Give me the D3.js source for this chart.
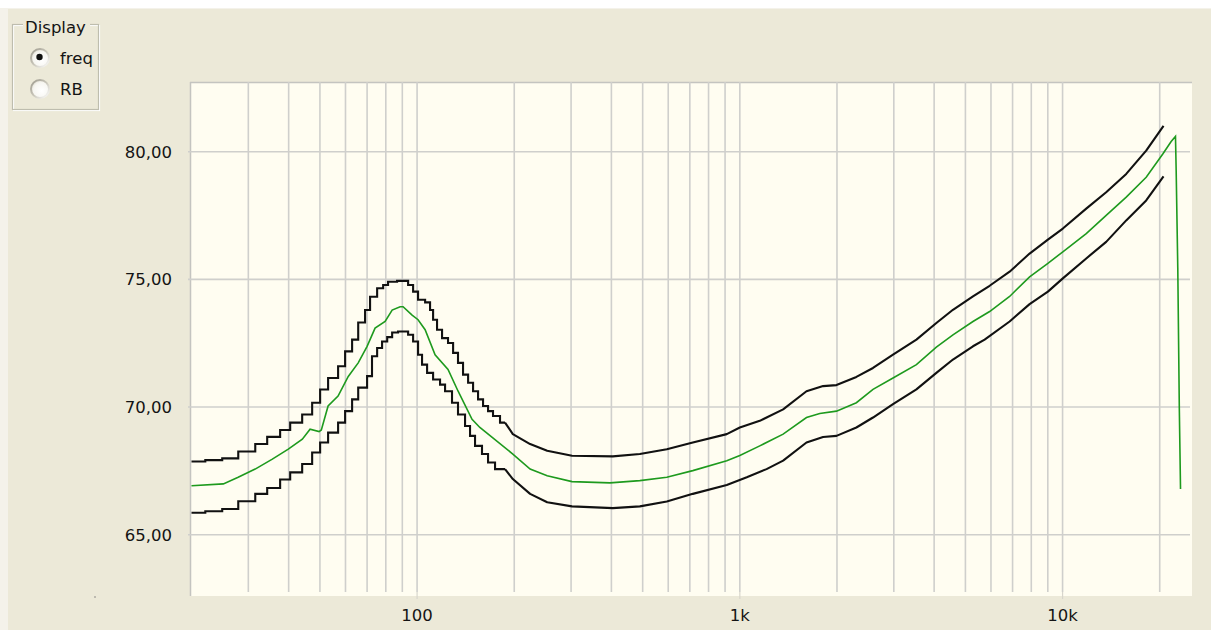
<!DOCTYPE html>
<html>
<head>
<meta charset="utf-8">
<script src="https://cdn.jsdelivr.net/npm/d3@7/dist/d3.min.js"></script>
<style>
html,body{margin:0;padding:0;background:#ECE9D8;}
svg{display:block;}
text{font-family:"DejaVu Sans",Verdana,sans-serif;}
</style>
</head>
<body>
<svg id="chart" width="1211" height="630"></svg>
<script>
// ---------------- data ----------------
// green (mean) response
const greenFreq = [20,25.1,27.9,31.5,35.6,39.9,44.1,46.6,49.7,50.5,53.0,56.9,61.2,65.7,70.0,74.1,79.6,83.7,88.6,90.5,96.5,100.7,105.9,113.7,124.7,134,148,156.5,198,224,253,302,396,490,594,715,911,1000,1153,1362,1609,1769,1993,2297,2586,2983,3525,4064,4575,5277,5943,6854,7904,9006,10020,11840,13650,15750,18160,20440,21700,22380,22490,22750,23000,23200];
const greenVal  = [66.92,66.99,67.25,67.57,67.96,68.35,68.74,69.13,69.04,69.10,70.04,70.43,71.20,71.73,72.38,73.09,73.35,73.80,73.93,73.93,73.60,73.42,73.03,72.05,71.47,70.62,69.52,69.20,68.16,67.57,67.31,67.08,67.03,67.12,67.25,67.51,67.90,68.10,68.48,68.94,69.59,69.75,69.84,70.17,70.69,71.14,71.66,72.35,72.83,73.35,73.74,74.33,75.10,75.63,76.08,76.79,77.51,78.22,79.00,79.91,80.40,80.60,79.26,75.45,69.95,66.79];

// upper black (max) curve
const upperFreq = [20,22.07,24.9,27.92,31.52,34.32,37.64,40.44,44.05,47.3,50.07,53.0,56.92,59.84,62.9,65.7,69.0,71.5,75.2,78.5,81.3,86.7,93.8,97.2,100.7,105.9,109.7,112.1,115.3,119.5,124.7,129.3,133.9,138.8,143.9,149.1,154.5,160.1,165.9,171.9,180.7,187.3,
  198,224,253,302,404,490,594,715,911,1000,1153,1362,1609,1811,1993,2297,2586,2983,3525,4064,4575,5277,5943,6854,7904,9006,10020,11840,13650,15750,18160,20550];
const upperVal  = [67.87,67.92,67.99,68.26,68.55,68.83,69.10,69.39,69.71,70.17,70.69,71.14,71.60,72.18,72.64,73.31,73.80,74.32,74.65,74.78,74.91,74.94,74.78,74.52,74.20,74.10,73.80,73.42,73.03,72.70,72.51,72.12,71.73,71.27,70.95,70.62,70.30,70.04,69.84,69.65,69.39,69.39,
  68.94,68.55,68.29,68.09,68.07,68.16,68.35,68.61,68.94,69.20,69.46,69.91,70.62,70.82,70.86,71.18,71.53,72.05,72.64,73.29,73.81,74.33,74.75,75.30,76.01,76.56,76.99,77.77,78.41,79.13,80.04,81.01];

// lower black (min) curve
const lowerFreq = [20,22.07,24.9,27.92,31.52,34.32,37.64,40.44,44.05,47.3,50.07,53.0,56.92,59.84,62.9,65.7,70.0,72.5,75.2,77.9,80.8,83.7,87.3,93.8,97.2,100.7,103.6,107.4,112.1,117.8,122.1,128.3,133.9,140.8,145.9,151.2,158.9,165.9,174.4,187.3,
  198,224,253,302,404,490,594,715,911,1051,1210,1362,1609,1811,1993,2297,2586,2983,3525,4064,4575,5277,5735,6854,7904,9006,10020,11840,13650,15750,18160,20550];
const lowerVal  = [65.86,65.92,66.01,66.31,66.60,66.83,67.16,67.44,67.77,68.22,68.61,69.00,69.39,69.84,70.30,70.76,71.21,71.99,72.31,72.57,72.74,72.92,72.96,72.83,72.57,72.05,71.66,71.34,71.08,70.88,70.62,70.17,69.71,69.26,68.87,68.48,68.16,67.83,67.57,67.57,
  67.18,66.60,66.27,66.11,66.04,66.11,66.30,66.60,66.95,67.25,67.57,67.90,68.61,68.83,68.87,69.20,69.59,70.11,70.69,71.34,71.86,72.38,72.64,73.35,74.03,74.52,75.04,75.82,76.47,77.31,78.09,79.03];

// step-drawn low-frequency region limit for the black curves (Hz)
const stepLimit = 187.3;

// axis labels
const yTickValues = [65,70,75,80];
const xLabelValues = [100,1000,10000];
const xLabelTexts = ["100","1k","10k"];

// legend (radio group)
const groupTitle = "Display";
const radioLabels = ["freq","RB"];
const radioSelected = 0;

// ---------------- drawing ----------------
const svg = d3.select("#chart");
const W = 1211, H = 630;
const plot = {left:190, top:82, right:1192, bottom:596};
const defs = svg.append("defs");

// window background
svg.append("rect").attr("x",0).attr("y",0).attr("width",W).attr("height",H).attr("fill","#FFFFFF");
svg.append("rect").attr("x",0).attr("y",8).attr("width",W).attr("height",H-8).attr("fill","#F4F2EA");
svg.append("rect").attr("x",8).attr("y",9).attr("width",W-8).attr("height",H-9).attr("fill","#ECE9D8");

const x = d3.scaleLog().domain([20,25000]).range([191.5,1191]);
const y = d3.scaleLinear().domain([62.6,82.73]).range([plot.bottom,plot.top]);

// plot area
svg.append("rect").attr("x",plot.left).attr("y",plot.top)
  .attr("width",plot.right-plot.left).attr("height",plot.bottom-plot.top)
  .attr("fill","#FFFDF1");
svg.append("line").attr("x1",plot.left+0.5).attr("x2",plot.left+0.5).attr("y1",plot.top).attr("y2",plot.bottom)
  .attr("stroke","#C4C4C0").attr("stroke-width",1.5);
svg.append("line").attr("x1",plot.left).attr("x2",plot.right).attr("y1",plot.top+0.5).attr("y2",plot.top+0.5)
  .attr("stroke","#C4C4C0").attr("stroke-width",1.5);

const gridColor = "#CFCFCC";
const gx = svg.append("g");
x.ticks().filter(t => t > 20).forEach(t => {
  gx.append("line").attr("x1",x(t)).attr("x2",x(t)).attr("y1",plot.top).attr("y2",592)
    .attr("stroke",gridColor).attr("stroke-width",1.6);
});
yTickValues.forEach(v => {
  gx.append("line").attr("x1",188).attr("x2",1190).attr("y1",y(v)).attr("y2",y(v))
    .attr("stroke",gridColor).attr("stroke-width",1.6);
});
xLabelValues.forEach(v => {
  gx.append("line").attr("x1",x(v)).attr("x2",x(v)).attr("y1",592).attr("y2",599)
    .attr("stroke","#D8D6CC").attr("stroke-width",1.2);
});

// y labels
const fmt = d3.format(".2f");
svg.append("g").selectAll("text").data(yTickValues).join("text")
  .attr("x",172).attr("y",d => y(d)).attr("dy","0.36em")
  .attr("text-anchor","end").attr("font-size","16.5px").attr("fill","#141414")
  .text(d => fmt(d).replace(".",","));

// x labels
svg.append("g").selectAll("text").data(xLabelValues).join("text")
  .attr("x",d => x(d)).attr("y",615).attr("dy","0.36em")
  .attr("text-anchor","middle").attr("font-size","16.5px").attr("fill","#141414")
  .text((d,i) => xLabelTexts[i]);

// series
const zip = (fs, vs) => fs.map((f,i) => ({f:f, v:vs[i]}));
const stepLine = d3.line().x(d => x(d.f)).y(d => y(d.v)).curve(d3.curveStepAfter);
const linLine = d3.line().x(d => x(d.f)).y(d => y(d.v));

const curves = svg.append("g");
[[upperFreq, upperVal],[lowerFreq, lowerVal]].forEach(([fs, vs]) => {
  const pts = zip(fs, vs);
  curves.append("path").attr("d", stepLine(pts.filter(p => p.f <= stepLimit)))
    .attr("fill","none").attr("stroke","#111").attr("stroke-width",2.1);
  curves.append("path").attr("d", linLine(pts.filter(p => p.f >= stepLimit)))
    .attr("fill","none").attr("stroke","#111").attr("stroke-width",2.1).attr("stroke-linejoin","round");
});
curves.append("path").attr("d", linLine(zip(greenFreq, greenVal)))
  .attr("fill","none").attr("stroke","#1E9A1E").attr("stroke-width",1.6);

// small speck at lower left
svg.append("rect").attr("x",94).attr("y",596).attr("width",2).attr("height",2).attr("fill","#BDBAB0");

// Display group box
const gb = svg.append("g");
gb.append("rect").attr("x",13.5).attr("y",25.5).attr("width",86).attr("height",85)
  .attr("fill","none").attr("stroke","#FFFFFF").attr("stroke-width",1.2);
gb.append("rect").attr("x",12.5).attr("y",24.5).attr("width",86).attr("height",85)
  .attr("fill","none").attr("stroke","#BEBDAE").attr("stroke-width",1.2);
gb.append("rect").attr("x",23).attr("y",18).attr("width",67).attr("height",14).attr("fill","#ECE9D8");
gb.append("text").attr("x",25).attr("y",27).attr("dy","0.36em").attr("font-size","16.5px").attr("fill","#141414").text(groupTitle);

// radio ring gradient (sunken look: dark top-left, light bottom-right)
const ring = defs.append("linearGradient").attr("id","ring").attr("x1","0%").attr("y1","0%").attr("x2","100%").attr("y2","100%");
ring.append("stop").attr("offset","0%").attr("stop-color","#9D9A8E");
ring.append("stop").attr("offset","50%").attr("stop-color","#C9C6BA");
ring.append("stop").attr("offset","100%").attr("stop-color","#FFFFFF");
const fillG = defs.append("radialGradient").attr("id","rfill").attr("cx","60%").attr("cy","60%").attr("r","65%");
fillG.append("stop").attr("offset","0%").attr("stop-color","#FFFFFF");
fillG.append("stop").attr("offset","70%").attr("stop-color","#F7F6F1");
fillG.append("stop").attr("offset","100%").attr("stop-color","#E2DFD4");

radioLabels.forEach((lab,i) => {
  const cy = 58 + i*31, cx = 40;
  gb.append("circle").attr("cx",cx).attr("cy",cy).attr("r",9).attr("fill","url(#rfill)")
    .attr("stroke","url(#ring)").attr("stroke-width",2);
  if (i === radioSelected) {
    gb.append("circle").attr("cx",cx-0.5).attr("cy",cy-1).attr("r",3.2).attr("fill","#111");
  }
  gb.append("text").attr("x",60).attr("y",cy).attr("dy","0.36em").attr("font-size","16.5px").attr("fill","#141414").text(lab);
});
</script>
</body>
</html>
